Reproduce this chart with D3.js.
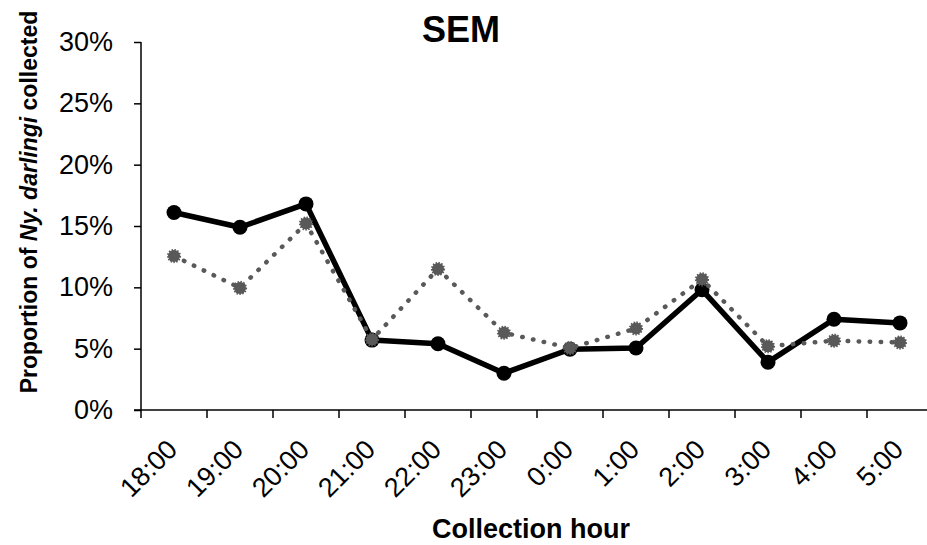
<!DOCTYPE html>
<html>
<head>
<meta charset="utf-8">
<script src="https://cdn.jsdelivr.net/npm/d3@7"></script>
<style>
  html, body { margin: 0; padding: 0; background: #fff; }
  svg { display: block; font-family: "Liberation Sans", Arial, sans-serif; }
</style>
</head>
<body>
<svg id="chart" width="927" height="545"></svg>
<script>
// ---- data ----
const hours = ["18:00","19:00","20:00","21:00","22:00","23:00","0:00","1:00","2:00","3:00","4:00","5:00"];
const solidSeries  = [16.1, 14.9, 16.8, 5.7, 5.4, 3.0, 4.95, 5.05, 9.8, 3.9, 7.4, 7.1];
const dottedSeries = [12.55, 9.95, 15.2, 5.75, 11.5, 6.3, 5.05, 6.65, 10.65, 5.2, 5.65, 5.5];
const yTicks = [0, 5, 10, 15, 20, 25, 30];
const titleText = "SEM";
const xTitle = "Collection hour";

// ---- layout ----
const svg = d3.select("#chart");
const mLeft = 141, mRight = 933, mTop = 42, mBottom = 410;

const x = d3.scaleBand().domain(hours).range([mLeft, mRight]).padding(0);
const y = d3.scaleLinear().domain([0, 30]).range([mBottom, mTop]);
const cx = d => x(d) + x.bandwidth() / 2;

// title
svg.append("text")
  .attr("x", 461).attr("y", 42)
  .attr("text-anchor", "middle")
  .attr("font-size", 36).attr("font-weight", "bold")
  .text(titleText);

// y axis
const yAxis = d3.axisLeft(y)
  .tickValues(yTicks)
  .tickFormat(d => d + "%")
  .tickSize(7)
  .tickPadding(21);
const gy = svg.append("g").attr("transform", `translate(${mLeft},0)`).call(yAxis);
gy.select(".domain").attr("stroke", "#000").attr("stroke-width", 1.5).attr("d", `M0,${mTop}V${mBottom}`);
gy.selectAll(".tick line").attr("stroke", "#000").attr("stroke-width", 1.5);
gy.selectAll(".tick text").attr("font-size", 27).attr("fill", "#000")
  .attr("font-family", "Liberation Sans, Arial, sans-serif");

// x axis line + ticks at band boundaries
svg.append("line")
  .attr("x1", mLeft - 7).attr("x2", 927)
  .attr("y1", mBottom).attr("y2", mBottom)
  .attr("stroke", "#000").attr("stroke-width", 1.5);
const bounds = hours.map(h => x(h)).concat([x.range()[1]]);
svg.append("g").selectAll("line").data(bounds).join("line")
  .attr("x1", d => d).attr("x2", d => d)
  .attr("y1", mBottom).attr("y2", mBottom + 8)
  .attr("stroke", "#000").attr("stroke-width", 1.5);

// x tick labels rotated
svg.append("g").selectAll("text").data(hours).join("text")
  .attr("transform", d => `translate(${cx(d) + 5},${mBottom + 41}) rotate(-45)`)
  .attr("text-anchor", "end")
  .attr("font-size", 27)
  .text(d => d);

// axis titles
svg.append("text")
  .attr("x", 531).attr("y", 538)
  .attr("text-anchor", "middle")
  .attr("font-size", 27).attr("font-weight", "bold")
  .text(xTitle);

const yt = svg.append("text")
  .attr("transform", "translate(37,202) rotate(-90)")
  .attr("text-anchor", "middle")
  .attr("font-size", 23).attr("font-weight", "bold");
yt.append("tspan").text("Proportion of ");
yt.append("tspan").attr("font-style", "italic").text("Ny. darlingi");
yt.append("tspan").text(" collected");

// lines
const line = d3.line().x((d, i) => cx(hours[i])).y(d => y(d));

svg.append("path").datum(solidSeries)
  .attr("d", line).attr("fill", "none")
  .attr("stroke", "#000").attr("stroke-width", 5.5)
  .attr("stroke-linejoin", "round");
svg.append("g").selectAll("circle").data(solidSeries).join("circle")
  .attr("cx", (d, i) => cx(hours[i])).attr("cy", d => y(d))
  .attr("r", 7.5).attr("fill", "#000");

svg.append("path").datum(dottedSeries)
  .attr("d", line).attr("fill", "none")
  .attr("stroke", "#595959").attr("stroke-width", 4.5)
  .attr("stroke-linecap", "round")
  .attr("stroke-dasharray", "0.5,10.5");
svg.append("g").selectAll("circle").data(dottedSeries).join("circle")
  .attr("cx", (d, i) => cx(hours[i])).attr("cy", d => y(d))
  .attr("r", 6).attr("fill", "#595959")
  .attr("stroke", "#595959").attr("stroke-width", 2.2)
  .attr("stroke-dasharray", "1.4,1.4");
</script>
</body>
</html>
